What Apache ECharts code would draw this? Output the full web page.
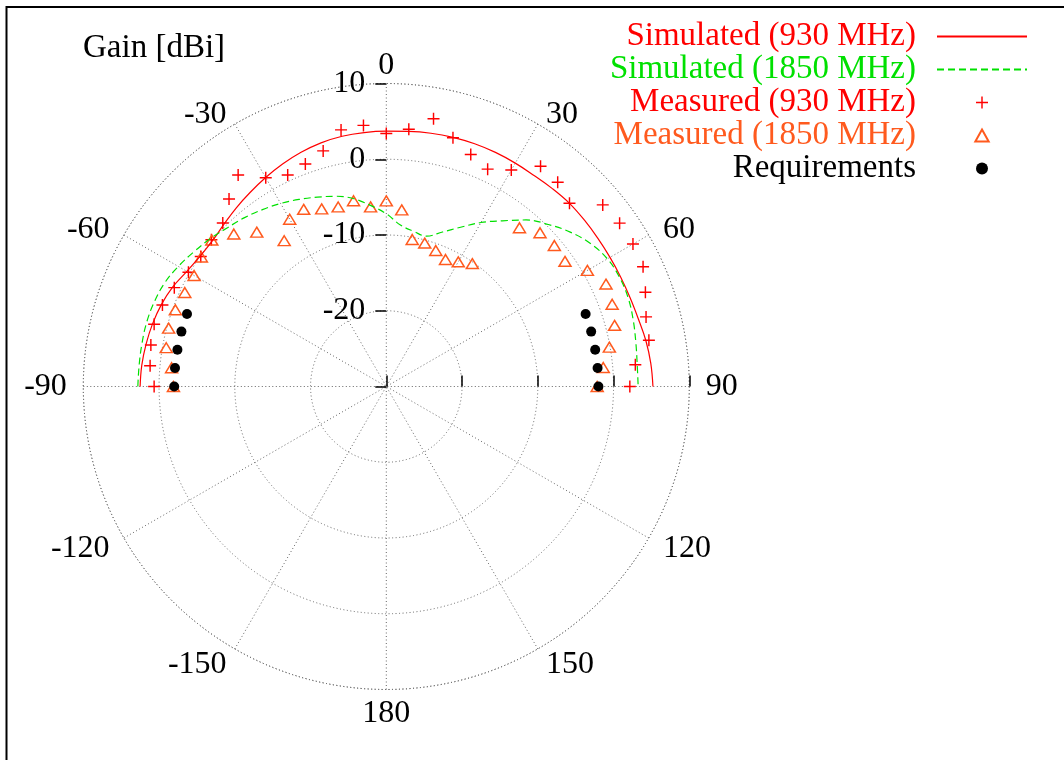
<!DOCTYPE html>
<html><head><meta charset="utf-8">
<script src="https://cdn.jsdelivr.net/npm/echarts@6/dist/echarts.min.js"></script>
<style>html,body{margin:0;padding:0;background:#fff}#c{width:1064px;height:760px}</style>
</head><body><div id="c"></div>
<script>
// ---- data (angle in degrees, gain in dBi) ----
const angles = [-90,-85,-80,-75,-70,-65,-60,-55,-50,-45,-40,-35,-30,-25,-20,-15,-10,-5,0,5,10,15,20,25,30,35,40,45,50,55,60,65,70,75,80,85,90];
const sim930 = [2.5,2.4,2.2,1.95,1.6,1.1,0.4,0.0,-0.05,0.3,0.8,1.3,1.85,2.4,2.9,3.3,3.55,3.65,3.7,3.8,3.95,4.05,4.1,4.1,4.05,4.0,4.1,4.2,4.15,4.1,4.1,4.15,4.25,4.45,4.8,5.05,5.2];
const sim1850 = [2.8,2.75,2.75,2.75,2.6,2.3,1.7,1.0,0.35,-0.35,-0.9,-1.5,-2.1,-2.75,-3.4,-4.0,-4.8,-6.0,-7.2,-8.6,-9.2,-9.45,-8.3,-6.8,-5.0,-3.3,-1.3,0.25,1.7,2.9,3.7,4.0,4.0,3.75,3.45,3.25,3.25];
const meas930 = [0.65,1.3,1.56,1.73,1.45,0.88,0.16,-0.1,0.14,0.53,2.3,4.1,1.83,0.8,1.25,2.2,4.4,4.6,3.4,4.1,5.9,4.0,2.6,1.66,3.0,5.5,5.2,4.2,7.3,7.6,7.6,7.4,6.4,5.5,5.2,3.0,2.15];
const meas1850 = [-1.9,-1.55,-0.5,-0.25,-0.37,-0.65,-0.7,-0.2,0.07,-1.53,-3.4,-6.5,-4.5,-4.2,-5.05,-5.46,-5.1,-6.2,-5.5,-6.6,-10.3,-10.4,-10.9,-11.5,-11.0,-10.2,-2.65,-1.3,-1.04,-1.2,0.65,2.0,1.73,1.2,-0.1,-1.25,-2.16];
const reqAngles = [-90,-85,-80,-75,-70,70,75,80,85,90];
const reqGain = [-2,-2,-2,-2,-2,-2,-2,-2,-2,-2];
const seriesNames = ['Simulated (930 MHz)','Simulated (1850 MHz)','Measured (930 MHz)','Measured (1850 MHz)','Requirements'];
const radialTicks = [-30,-20,-10,0,10];

const RED = '#ff0000', GREEN = '#00e000', ORANGE = '#ff5a1e', BLACK = '#000000', GRID = '#666666';
const FONT = "'Liberation Serif','Times New Roman',serif";
const PLUS = 'path://M0,4.4H10V5.6H0Z M4.4,0H5.6V10H4.4Z';
const TRI = 'path://M5,0L10,9L0,9Z';
const toAxis = a => (a < 0 ? a + 360 : a);
const pairs = (vals, angs) => vals.map((v, i) => [v, toAxis(angs[i])]);
const gridLine = {color: GRID, width: 1, type: [1, 2.5]};
const CENTER = [386.3, 386.5], RADIUS = 303;
// small per-label vertical nudges for the angle labels (token top padding)
const angleLabelRich = {
  s0: {}, s30: {padding: [12, 0, 0, 0]}, s60: {padding: [8, 0, 0, 0]}, s90: {},
  s120: {padding: [2, 0, 0, 0]}, s150: {}, s180: {padding: [14, 0, 0, 0]}
};

const chart = echarts.init(document.getElementById('c'), null, {renderer: 'canvas'});
chart.setOption({
  animation: false,
  backgroundColor: '#ffffff',
  textStyle: {fontFamily: FONT},
  title: {text: 'Gain [dBi]', left: 83, top: 32, padding: 0,
    textStyle: {fontFamily: FONT, fontSize: 33, fontWeight: 'normal', color: BLACK}},
  legend: {
    orient: 'vertical', align: 'right', right: 36, top: 20, padding: 0, itemGap: 0,
    itemWidth: 90, itemHeight: 12, symbolKeepAspect: true,
    textStyle: {fontFamily: FONT, fontSize: 33, lineHeight: 33, padding: [0, 16, 0, 0]},
    data: [
      {name: seriesNames[0], textStyle: {color: RED}, itemStyle: {opacity: 0}},
      {name: seriesNames[1], textStyle: {color: GREEN}, itemStyle: {opacity: 0}},
      {name: seriesNames[2], textStyle: {color: RED}},
      {name: seriesNames[3], textStyle: {color: ORANGE}},
      {name: seriesNames[4], textStyle: {color: BLACK}}
    ]
  },
  graphic: [{type: 'rect', silent: true, z: 100,
    shape: {x: 6.5, y: 7, width: 1200, height: 900},
    style: {fill: 'none', stroke: '#000', lineWidth: 2}}],
  polar: [{center: CENTER, radius: RADIUS}, {center: CENTER, radius: RADIUS}],
  angleAxis: [{
    polarIndex: 0, type: 'value', min: 0, max: 360, interval: 30, startAngle: 90, clockwise: true,
    axisLine: {show: true, lineStyle: gridLine},
    axisTick: {show: false},
    splitLine: {show: true, lineStyle: gridLine},
    axisLabel: {margin: 16.5, fontFamily: FONT, fontSize: 32, color: BLACK, lineHeight: 2,
      rich: angleLabelRich,
      formatter: v => {
        if (v === 360) return '';
        const d = v > 180 ? v - 360 : v;
        return '{s' + Math.abs(d) + '|' + d + '}';
      }}
  }, {
    polarIndex: 1, type: 'value', min: 0, max: 360, startAngle: 0, clockwise: true, show: false
  }],
  radiusAxis: [{
    polarIndex: 0, type: 'value', min: radialTicks[0], max: radialTicks[radialTicks.length - 1], interval: 10,
    axisLine: {show: false},
    axisTick: {show: true, length: 11, lineStyle: {color: BLACK, width: 1.5}},
    splitLine: {show: true, lineStyle: gridLine},
    axisLabel: {margin: 21, fontFamily: FONT, fontSize: 32, color: BLACK,
      formatter: v => (v === radialTicks[0] ? '' : String(v))}
  }, {
    polarIndex: 1, type: 'value', min: radialTicks[0], max: radialTicks[radialTicks.length - 1], interval: 10,
    axisLine: {show: false},
    axisTick: {show: true, inside: true, length: 11, lineStyle: {color: BLACK, width: 1.5}},
    splitLine: {show: false},
    axisLabel: {show: false}
  }],
  series: [
    {name: seriesNames[0], type: 'line', coordinateSystem: 'polar', polarIndex: 0,
      data: pairs(sim930, angles), symbol: 'none', smooth: 0.4,
      lineStyle: {color: RED, width: 1.2}, itemStyle: {color: RED}},
    {name: seriesNames[1], type: 'line', coordinateSystem: 'polar', polarIndex: 0,
      data: pairs(sim1850, angles), symbol: 'none', smooth: 0.4,
      lineStyle: {color: GREEN, width: 1.2, type: [7, 4]}, itemStyle: {color: GREEN}},
    {name: seriesNames[2], type: 'scatter', coordinateSystem: 'polar', polarIndex: 0,
      data: pairs(meas930, angles), symbol: PLUS, symbolSize: 12, symbolKeepAspect: true,
      itemStyle: {color: RED, opacity: 1}},
    {name: seriesNames[3], type: 'scatter', coordinateSystem: 'polar', polarIndex: 0,
      data: pairs(meas1850, angles), symbol: TRI, symbolSize: [12, 11], symbolKeepAspect: true,
      itemStyle: {color: 'rgba(255,255,255,0)', borderColor: ORANGE, borderWidth: 1.5, opacity: 1}},
    {name: seriesNames[4], type: 'scatter', coordinateSystem: 'polar', polarIndex: 0,
      data: pairs(reqGain, reqAngles), symbol: 'circle', symbolSize: 10, symbolKeepAspect: true,
      itemStyle: {color: BLACK, opacity: 1}}
  ]
});
</script></body></html>
